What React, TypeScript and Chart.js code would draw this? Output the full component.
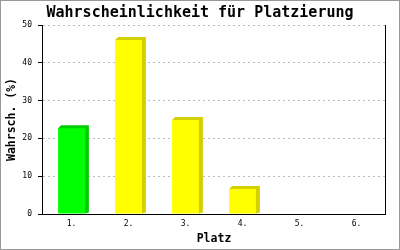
import React, { useEffect, useRef } from "react";
import { Chart, registerables } from "chart.js";

Chart.register(...registerables);

const categories = ["1.", "2.", "3.", "4.", "5.", "6."];
const probabilities = [22.7, 46, 24.9, 6.6, 0, 0];
const frontColors = ["#00ff00", "#ffff00", "#ffff00", "#ffff00", "#ffff00", "#ffff00"];
const sideColors = ["#00cc00", "#d4d000", "#d4d000", "#d4d000", "#d4d000", "#d4d000"];
const titleText = "Wahrscheinlichkeit für Platzierung";
const yTitle = "Wahrsch. (%)";
const xTitle = "Platz";

const MONO = "'DejaVu Sans Mono', monospace";

const depthPlugin = {
  id: "depth3d",
  beforeDatasetsDraw(chart: any) {
    const ctx = chart.ctx;
    const meta = chart.getDatasetMeta(0);
    const dx = 4;
    const dy = 3;
    meta.data.forEach((bar: any, i: number) => {
      if (!probabilities[i]) return;
      const { x, y, base, width } = bar.getProps(["x", "y", "base", "width"], true);
      const left = x - width / 2;
      const right = x + width / 2;
      ctx.save();
      ctx.fillStyle = sideColors[i];
      ctx.beginPath();
      ctx.moveTo(left, y);
      ctx.lineTo(left + dy, y - dy);
      ctx.lineTo(right + dx, y - dy);
      ctx.lineTo(right + dx, base - 1);
      ctx.lineTo(right, base);
      ctx.closePath();
      ctx.fill();
      ctx.restore();
    });
  },
  afterDraw(chart: any) {
    const ctx = chart.ctx;
    const { top, bottom, left, right } = chart.chartArea;
    ctx.save();
    ctx.setLineDash([]);
    ctx.strokeStyle = "#000";
    ctx.lineWidth = 1;
    ctx.beginPath();
    ctx.moveTo(Math.round(right) + 0.5, top);
    ctx.lineTo(Math.round(right) + 0.5, bottom);
    ctx.moveTo(Math.round(left) - 0.5, top);
    ctx.lineTo(Math.round(left) - 0.5, bottom);
    ctx.moveTo(left - 1, Math.round(bottom) + 0.5);
    ctx.lineTo(right + 1, Math.round(bottom) + 0.5);
    ctx.stroke();
    ctx.strokeStyle = "#999";
    ctx.strokeRect(0.5, 0.5, chart.width - 1, chart.height - 1);
    ctx.restore();
  },
};

export default function App() {
  const ref = useRef<HTMLCanvasElement>(null);
  useEffect(() => {
    if (!ref.current) return;
    const chart = new Chart(ref.current, {
      type: "bar",
      data: {
        labels: categories,
        datasets: [
          {
            data: probabilities,
            backgroundColor: frontColors,
            borderWidth: 0,
            barPercentage: 0.47,
            categoryPercentage: 1,
          },
        ],
      },
      options: {
        responsive: false,
        animation: false,
        layout: { padding: 0 },
        plugins: {
          legend: { display: false },
          tooltip: { enabled: false },
          title: {
            display: true,
            text: titleText,
            color: "#000",
            font: { family: MONO, size: 15, weight: "bold", lineHeight: 1.2 },
            padding: { top: 4, bottom: 3 },
          },
        },
        scales: {
          x: {
            grid: { display: false, drawTicks: false, tickLength: 0 },
            border: { display: false },
            ticks: {
              color: "#000",
              font: { family: MONO, size: 8 },
              padding: 5,
              maxRotation: 0,
            },
            title: {
              display: true,
              text: xTitle,
              color: "#000",
              font: { family: MONO, size: 11.5, weight: "bold", lineHeight: 1.2 },
              padding: { top: 2, bottom: 4 },
            },
            afterFit(scale: any) {
              scale.height = 36;
            },
          },
          y: {
            min: 0,
            max: 50,
            ticks: {
              stepSize: 10,
              color: "#000",
              font: { family: MONO, size: 8 },
              padding: 6,
            },
            grid: {
              color: "#bbbbbb",
              drawTicks: true,
              tickLength: 5,
              tickColor: "#000",
              tickBorderDash: [],
            } as any,
            border: { display: false, dash: [2, 3] },
            title: {
              display: true,
              text: yTitle,
              color: "#000",
              font: { family: MONO, size: 11.5, weight: "bold", lineHeight: 1.2 },
              padding: { top: 5, bottom: 0 },
            },
            afterFit(scale: any) {
              scale.width = 43;
            },
          },
          yRight: {
            type: "linear",
            position: "right",
            display: true,
            ticks: { display: false },
            grid: { display: false, drawTicks: false },
            border: { display: false },
            afterFit(scale: any) {
              scale.width = 15;
            },
          },
        },
      } as any,
      plugins: [depthPlugin],
    });
    return () => chart.destroy();
  }, []);
  return (
    <div style={{ position: "fixed", left: 0, top: 0, width: 400, height: 250, background: "#fff" }}>
      <canvas ref={ref} width={400} height={250} style={{ display: "block" }} />
    </div>
  );
}
